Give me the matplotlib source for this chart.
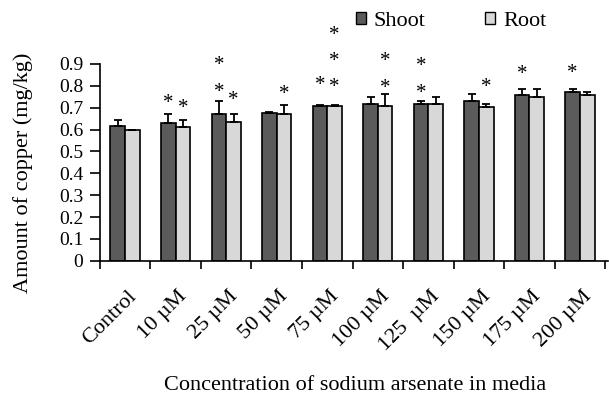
import numpy as np
import matplotlib.pyplot as plt
import matplotlib.transforms as mtransforms
from matplotlib.patches import Patch

plt.rcParams['font.family'] = ['Liberation Serif', 'DejaVu Serif']

# data
categories = ["Control", "10 µM", "25 µM", "50 µM", "75 µM",
              "100 µM", "125  µM", "150 µM", "175 µM", "200 µM"]
shoot = [0.617, 0.629, 0.670, 0.677, 0.709, 0.717, 0.717, 0.732, 0.758, 0.771]
shoot_err = [0.027, 0.040, 0.062, 0.004, 0.003, 0.034, 0.015, 0.032, 0.026, 0.013]
root = [0.598, 0.611, 0.636, 0.672, 0.707, 0.709, 0.717, 0.703, 0.751, 0.757]
root_err = [0.0, 0.033, 0.034, 0.038, 0.003, 0.054, 0.034, 0.014, 0.033, 0.013]
# significance stars: how many, and the level of the lowest one
shoot_stars = [0, 1, 2, 0, 1, 0, 2, 0, 1, 1]
shoot_star_y = [0, 0.740, 0.794, 0, 0.822, 0, 0.789, 0, 0.876, 0.880]
root_stars = [0, 1, 1, 1, 3, 2, 0, 1, 0, 0]
root_star_y = [0, 0.720, 0.754, 0.781, 0.815, 0.812, 0, 0.815, 0, 0]
star_step = 0.12

shoot_color = "#5b5b5b"
root_color = "#d8d8d8"

fig = plt.figure(figsize=(6.09, 3.97), dpi=100)
ax = fig.add_axes([0.164, 0.343, 0.834, 0.496])

x = np.arange(len(categories))
w = 0.29

ax.bar(x - w / 2, shoot, w, color=shoot_color, edgecolor="black", linewidth=1.2,
       yerr=[np.zeros(len(shoot)), shoot_err], capsize=3,
       error_kw=dict(elinewidth=1.3, capthick=1.3, ecolor="black"))
ax.bar(x + w / 2, root, w, color=root_color, edgecolor="black", linewidth=1.2,
       yerr=[np.zeros(len(root)), root_err], capsize=3,
       error_kw=dict(elinewidth=1.3, capthick=1.3, ecolor="black"))

# the asterisk glyph sits high in its box, nudge it down
star_shift = ax.transData + mtransforms.ScaledTranslation(0, -5 / 100, fig.dpi_scale_trans)

def add_stars(xpos, counts, levels):
    for xi, n, y0 in zip(xpos, counts, levels):
        for k in range(n):
            ax.text(xi, y0 + k * star_step, "*", ha="center", va="center",
                    fontsize=15, clip_on=False, transform=star_shift)

add_stars(x - w / 2, shoot_stars, shoot_star_y)
add_stars(x + w / 2, root_stars, root_star_y)

ax.set_xlim(-0.5, len(categories) - 0.5 + 0.05)
ax.set_ylim(0, 0.9)
ax.set_yticks(np.arange(0, 0.91, 0.1))
ax.set_yticklabels(["0"] + [f"{v:.1f}" for v in np.arange(0.1, 0.91, 0.1)])
ax.tick_params(axis="y", labelsize=14, length=7, width=1.2, pad=5)

ax.set_xticks(x)
ax.set_xticklabels(categories, rotation=45, ha="right", rotation_mode="anchor",
                   fontsize=16)
ax.set_xticks(np.arange(-0.5, len(categories), 1.0), minor=True)
ax.tick_params(axis="x", which="major", length=0, pad=14)
ax.tick_params(axis="x", which="minor", length=6, width=1.2)
lab_shift = mtransforms.ScaledTranslation(2 / 100, -7 / 100, fig.dpi_scale_trans)
for lab in ax.get_xticklabels():
    lab.set_transform(lab.get_transform() + lab_shift)

for s in ["top", "right"]:
    ax.spines[s].set_visible(False)
ax.spines["left"].set_linewidth(1.2)
ax.spines["bottom"].set_linewidth(1.2)

handles = [Patch(facecolor=shoot_color, edgecolor="black", label="Shoot"),
           Patch(facecolor=root_color, edgecolor="black", label="Root")]
fig.legend(handles=handles, loc="center left", bbox_to_anchor=(0.584, 0.947), ncol=2,
           frameon=False, fontsize=16, handlelength=0.45, handleheight=0.45,
           handletextpad=0.35, columnspacing=2.7, borderpad=0, borderaxespad=0)

fig.text(0.038, 0.565, "Amount of copper (mg/kg)", rotation=90, ha="center",
         va="center", fontsize=16)
fig.text(0.583, 0.028, "Concentration of sodium arsenate in media", ha="center",
         va="center", fontsize=16)

fig.savefig("out.png", dpi=100)
